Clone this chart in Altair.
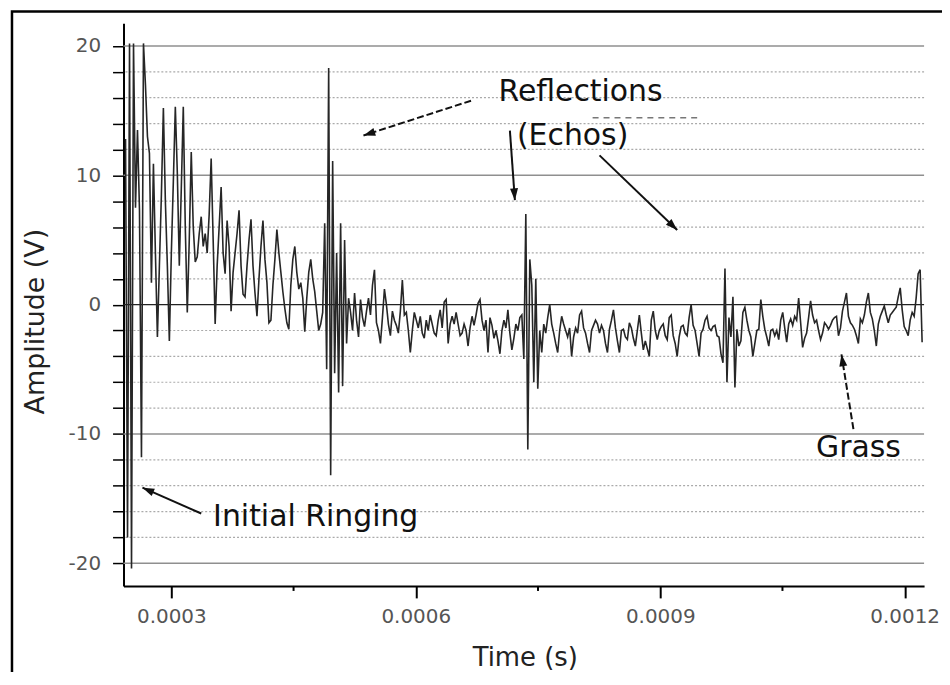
import math
import altair as alt
import pandas as pd

# ---------------- data ----------------
SAMPLE_START_US = 243.8      # time of first sample (microseconds)
SAMPLE_STEP_US = 2.444       # sampling interval (microseconds)

amplitude_v = [
    12.8, -18.0, 20.2, -20.4, 20.2, 7.5, 13.5, 7.3, -11.8, 20.2,
    17.0, 13.0, 11.7, 1.7, 10.9, 4.0, -2.5, 3.0, 8.5, 15.2,
    8.0, 3.0, -2.8, 4.0, 9.5, 15.3, 10.2, 3.0, 9.0, 15.3,
    6.0, -0.6, 5.0, 11.8, 6.0, 3.3, 3.7, 5.5, 6.8, 4.5,
    5.5, 4.0, 7.0, 11.3, 5.0, -1.5, 3.0, 6.0, 9.1, 4.0,
    2.4, 6.5, 4.5, -0.5, 2.5, 4.0, 5.5, 7.3, 3.0, 0.8,
    0.6, 3.0, 5.0, 6.6, 3.0, 0.9, -0.9, 2.0, 4.5, 6.5,
    3.5, 1.7, -1.4, -1.2, 1.5, 3.5, 5.8, 4.0, 2.5, 1.0,
    -0.3, -1.4, -1.9, 1.5, 3.5, 4.5, 2.5, 1.2, 1.7, 0.5,
    -2.1, 0.5, 2.5, 3.5, 2.0, 1.0, -0.5, -2.0, -1.5, -0.6,
    6.3, -5.0, 18.3, -13.2, 11.1, -5.3, 4.0, -6.8, 6.3, -6.3,
    5.0, -3.0, 0.5, -0.6, -2.0, 0.9, -1.2, -2.5, 0.4, -1.0,
    -1.7, -0.5, 0.5, -0.8, 1.5, 2.7, -1.4, -2.0, -3.0, -1.0,
    1.2, 0.0, -1.5, -2.4, -0.5, -1.2, -1.6, -2.2, -0.5, 1.9,
    -0.8, -0.6, -2.0, -3.7, -2.0, -0.6, -1.2, -1.8, -0.9, -2.2,
    -2.6, -1.2, -2.0, -0.8, -1.5, -2.2, -2.4, -1.2, -0.4, -1.8,
    0.2, 0.4, -3.0, -1.5, -0.9, -1.5, -0.6, -1.5, -2.4, -2.2,
    -1.5, -2.0, -3.2, -1.8, -0.9, -1.6, -0.8, 0.1, 0.4, -1.2,
    -2.0, -1.2, -3.7, -1.0, -1.6, -2.6, -2.0, -2.8, -3.8, -2.0,
    -1.2, -1.8, -0.4, -2.2, -3.5, -2.6, -1.5, -2.0, -1.0, -0.8,
    -4.2, 7.0, -11.2, 3.5, 1.5, -6.0, 2.0, -6.5, -2.0, -3.7,
    -1.5, -2.2, -1.0, 0.0, -1.5, -2.2, -3.0, -3.7, -2.0, -0.9,
    -1.5, -2.0, -2.5, -1.8, -4.0, -2.5, -1.8, -2.2, -0.8, -0.5,
    -1.8, -2.2, -3.0, -3.7, -2.0, -1.6, -1.2, -1.5, -2.2, -1.6,
    -2.0, -3.0, -3.7, -1.9, -1.2, -0.4, -1.8, -2.8, -3.7, -2.0,
    -1.9, -2.5, -2.7, -1.4, -1.8, -2.6, -3.2, -2.0, -0.8, -2.2,
    -3.5, -2.8, -3.4, -4.0, -1.2, -0.5, -2.0, -2.7, -2.0, -1.7,
    -1.5, -2.4, -2.7, -1.0, -0.8, -2.4, -3.0, -4.0, -2.5, -1.7,
    -1.6, -2.2, -2.4, -1.0, 0.0, -1.6, -2.0, -3.0, -4.0, -2.2,
    -1.9, -1.2, -0.9, -1.8, -2.0, -1.7, -1.6, -2.4, -2.5, -3.8,
    -4.5, 2.8, -6.0, -1.0, -2.5, 0.6, -6.4, -1.9, -3.2, -2.8,
    -0.6, -0.2, -1.2, -2.0, -2.5, -4.0, -3.0, -2.0, -1.9, 0.4,
    -0.9, -1.9, -2.5, -3.2, -2.0, -1.9, -2.4, -2.0, -2.7, -1.2,
    -0.6, -1.8, -2.9, -1.5, -1.1, -1.6, -0.9, -1.2, 0.5, -1.4,
    -3.3, -2.6, -2.2, -1.0, 0.3, -0.8, -1.4, -1.2, -2.0, -2.7,
    -2.2, -1.4, -1.6, -1.9, -1.6, -1.2, -1.0, -0.9, -2.4, -1.8,
    -0.5, 0.2, 0.9, -0.9, -1.4, -1.6, -1.9, -2.4, -3.0, -1.1,
    -1.4, -0.8, 0.2, 0.9, -0.6, -1.1, -2.0, -3.2, -1.5, -0.9,
    -0.5, -0.1, -0.8, -1.4, -0.8, -0.6, -0.4, -0.2, 0.6, 1.3,
    -0.4, -1.7, -2.0, -2.4, -1.2, -0.6, -0.9, 0.5, 2.4, 2.7,
    -2.9,
]

X_DOMAIN = [0.0002413, 0.0012238]
Y_DOMAIN = [-21.75, 21.75]
x_tick_values = [0.0003, 0.0006, 0.0009, 0.0012]
x_minor_ticks = [0.00045, 0.00075, 0.00105]
y_tick_values = list(range(-20, 21, 2))
y_major_grid = [-20, -10, 10, 20]
y_zero_line = [0]
y_minor_grid = [v for v in y_tick_values if v % 10 != 0]

ann_text = ["Reflections", "(Echos)", "Initial Ringing", "Grass"]
ann_t = [0.0008022, 0.0007925, 0.0004772, 0.0011432]
ann_v = [15.77, 12.31, -17.08, -11.77]

arrow_t0 = [0.0006678, 0.0007155, 0.0008255, 0.0003367, 0.0011371]
arrow_v0 = [15.77, 13.46, 11.54, -16.15, -9.62]
arrow_t1 = [0.0005358, 0.0007216, 0.0009208, 0.0002646, 0.0011224]
arrow_v1 = [13.08, 8.08, 5.77, -14.15, -3.85]
arrow_dashed = [True, False, False, False, True]

stray_t = [0.000817, 0.000949]
stray_v = [14.46, 14.46]

# ---------------- layout ----------------
W, H = 804, 565
FONT = "DejaVu Sans"

xs = alt.Scale(domain=X_DOMAIN, nice=False, zero=False)
ys = alt.Scale(domain=Y_DOMAIN, nice=False, zero=False)

xa = alt.Axis(
    values=x_tick_values, format=".4f", title="Time (s)", grid=False,
    domainColor="black", domainWidth=2, tickColor="black", tickWidth=2,
    tickSize=12, labelPadding=9, labelFont=FONT, labelFontSize=20,
    labelColor="#555555", labelFlush=False,
    titleFont=FONT, titleFontSize=26, titleFontWeight="normal",
    titleColor="#222222", titleX=403, titleY=80,
    titleAlign="center", titleBaseline="alphabetic")
ya = alt.Axis(
    values=y_tick_values,
    labelExpr="datum.value % 10 === 0 ? toString(datum.value) : ''",
    title="Amplitude (V)", grid=False,
    domainColor="black", domainWidth=2, tickColor="black", tickWidth=1.5,
    tickSize=11, labelPadding=12, labelFont=FONT, labelFontSize=20,
    labelColor="#555555",
    titleFont=FONT, titleFontSize=27, titleFontWeight="normal",
    titleColor="#222222", titleX=-88, titleY=299, titleAngle=270,
    titleAlign="center", titleBaseline="middle")

def X(field):
    return alt.X(field, scale=xs, axis=xa, title="Time (s)")

def Y(field):
    return alt.Y(field, scale=ys, axis=ya, title="Amplitude (V)")

signal = pd.DataFrame({
    "t": [(SAMPLE_START_US + i * SAMPLE_STEP_US) * 1e-6 for i in range(len(amplitude_v))],
    "v": amplitude_v,
})

def ang(t0, v0, t1, v1):
    dx = (t1 - t0) / (X_DOMAIN[1] - X_DOMAIN[0]) * W
    dy = -(v1 - v0) / (Y_DOMAIN[1] - Y_DOMAIN[0]) * H
    return math.degrees(math.atan2(dx, -dy)) % 360

arrows = pd.DataFrame({
    "t": arrow_t0, "v": arrow_v0, "t2": arrow_t1, "v2": arrow_v1,
    "dashed": arrow_dashed,
    "ang": [ang(a, b, c, d) for a, b, c, d in zip(arrow_t0, arrow_v0, arrow_t1, arrow_v1)],
})

minor_grid = alt.Chart(pd.DataFrame({"v": y_minor_grid})).mark_rule(
    color="#aaaaaa", strokeDash=[2, 2], strokeWidth=1.2
).encode(y=Y("v:Q"))

major_grid = alt.Chart(pd.DataFrame({"v": y_major_grid})).mark_rule(
    color="#8f8f8f", strokeWidth=1.5
).encode(y=Y("v:Q"))

zero_line = alt.Chart(pd.DataFrame({"v": y_zero_line})).mark_rule(
    color="#222222", strokeWidth=1.4
).encode(y=Y("v:Q"))

line = alt.Chart(signal).mark_line(color="#262626", strokeWidth=1.6).encode(
    x=X("t:Q"), y=Y("v:Q"))

minor_x = alt.Chart(pd.DataFrame({"t": x_minor_ticks})).mark_rule(
    color="black", strokeWidth=2
).encode(x=X("t:Q"), y=alt.value(H), y2=alt.value(H + 5))

shaft_solid = alt.Chart(arrows[~arrows["dashed"]]).mark_rule(
    color="#111111", strokeWidth=2
).encode(x=X("t:Q"), y=Y("v:Q"), x2="t2:Q", y2="v2:Q")

shaft_dashed = alt.Chart(arrows[arrows["dashed"]]).mark_rule(
    color="#111111", strokeWidth=2, strokeDash=[7, 3]
).encode(x=X("t:Q"), y=Y("v:Q"), x2="t2:Q", y2="v2:Q")

heads = alt.Chart(arrows).mark_point(
    shape="M0,0L0.34,1L-0.34,1Z", filled=True, size=560, color="#111111", opacity=1
).encode(x=X("t2:Q"), y=Y("v2:Q"), angle=alt.Angle("ang:Q", scale=None))

labels = alt.Chart(pd.DataFrame({"t": ann_t, "v": ann_v, "text": ann_text})).mark_text(
    font=FONT, fontSize=30, color="#111111", align="center", baseline="alphabetic"
).encode(x=X("t:Q"), y=Y("v:Q"), text="text:N")

stray = alt.Chart(pd.DataFrame({"t": [stray_t[0]], "v": [stray_v[0]],
                                "t2": [stray_t[1]], "v2": [stray_v[1]]})).mark_rule(
    color="#777777", strokeWidth=1.5, strokeDash=[6, 5]
).encode(x=X("t:Q"), y=Y("v:Q"), x2="t2:Q", y2="v2:Q")

frame = alt.Chart(pd.DataFrame({"k": [0]})).mark_rect(
    fillOpacity=0, stroke="black", strokeWidth=2.5
).encode(x=alt.value(-112), x2=alt.value(900), y=alt.value(-12), y2=alt.value(700))

chart = alt.layer(
    minor_grid, major_grid, zero_line, line, minor_x,
    shaft_solid, shaft_dashed, heads, labels, stray, frame
).properties(
    width=W, height=H, background="white",
    padding={"left": 116, "top": 14, "right": 18, "bottom": 85},
    autosize=alt.AutoSizeParams(type="none"),
).configure_view(strokeWidth=0)

chart.save("out.html", embed_options={"renderer": "svg", "actions": False})
